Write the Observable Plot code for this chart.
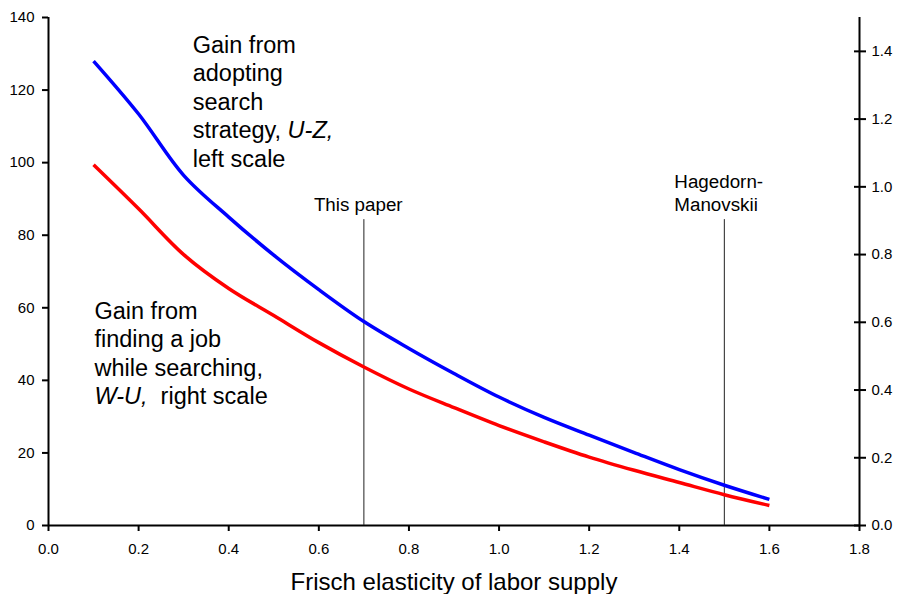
<!DOCTYPE html>
<html>
<head>
<meta charset="utf-8">
<script src="https://cdn.jsdelivr.net/npm/d3@7"></script>
<script src="https://cdn.jsdelivr.net/npm/@observablehq/plot@0.6"></script>
<style>
  body { margin: 0; background: #fff; }
  #chart { width: 897px; height: 594px; }
</style>
</head>
<body>
<div id="chart"></div>
<script>
// ---- data ----
const elasticity   = [0.1, 0.2, 0.3, 0.4, 0.5, 0.6, 0.7, 0.8, 0.9, 1.0, 1.1, 1.2, 1.3, 1.4, 1.5, 1.6];
// Gain from adopting search strategy, U-Z (left scale)
const gainSearchUZ = [128.0, 113.4, 96.5, 85.0, 74.5, 65.0, 56.2, 48.8, 41.9, 35.4, 29.8, 24.9, 20.1, 15.4, 11.1, 7.2];
// Gain from finding a job while searching, W-U (right scale)
const gainJobWU    = [1.065, 0.935, 0.800, 0.700, 0.620, 0.540, 0.468, 0.403, 0.348, 0.295, 0.247, 0.202, 0.163, 0.127, 0.091, 0.059];

const xTicks     = [0, 0.2, 0.4, 0.6, 0.8, 1.0, 1.2, 1.4, 1.6, 1.8];
const leftTicks  = [0, 20, 40, 60, 80, 100, 120, 140];
const rightTicks = [0, 0.2, 0.4, 0.6, 0.8, 1.0, 1.2, 1.4];
const leftMax = 140, rightMax = 1.5, xMax = 1.8;

const markerX      = [0.7, 1.5];
const markerLabels = ["This paper", "Hagedorn-\nManovskii"];
const markerTop    = 84.3;

const xTitle  = "Frisch elasticity of labor supply";
const labelUZ = ["Gain from", "adopting", "search", "strategy, U-Z,", "left scale"];
const labelWU = ["Gain from", "finding a job", "while searching,", "W-U,\u00a0 right scale"];
const italicParts = [["strategy, U-Z,", "U-Z,"], ["W-U,\u00a0 right scale", "W-U,"]];

// ---- chart ----
const toLeft = v => v * leftMax / rightMax;
const font = "'Liberation Sans', Arial, Helvetica, sans-serif";

const plot = Plot.plot({
  width: 897,
  height: 594,
  marginLeft: 48,
  marginRight: 38,
  marginTop: 17,
  marginBottom: 69,
  x: { domain: [0, xMax] },
  y: { domain: [0, leftMax] },
  style: { fontFamily: font, fontSize: "15px", color: "#000", background: "#fff" },
  marks: [
    Plot.axisX(xTicks, { tickSize: 6, tickPadding: 12, strokeWidth: 2, tickFormat: d => d.toFixed(1), label: null }),
    Plot.axisY(leftTicks, { anchor: "left", tickSize: 6, tickPadding: 8, strokeWidth: 2, label: null }),
    Plot.axisY(rightTicks.map(toLeft), {
      anchor: "right", tickSize: 12, dx: -6, tickPadding: 6, strokeWidth: 2,
      tickFormat: d => (d * rightMax / leftMax).toFixed(1), label: null
    }),
    Plot.ruleX([0, xMax], { strokeWidth: 2, stroke: "#000" }),
    Plot.ruleY([0], { strokeWidth: 2, stroke: "#000" }),
    Plot.ruleX(markerX, { x: d => d, y1: () => 0, y2: () => markerTop, stroke: "#222", strokeWidth: 1 }),
    Plot.text(markerLabels, {
      x: markerX, y: () => markerTop, text: d => d, dy: -9, dx: -50,
      textAnchor: "start", lineAnchor: "bottom", fontSize: 18.8, lineHeight: 1.23, fill: "#000"
    }),
    Plot.line(gainSearchUZ, { x: elasticity, y: d => d, stroke: "#0000ff", strokeWidth: 3.5, curve: "catmull-rom", strokeLinecap: "butt" }),
    Plot.line(gainJobWU, { x: elasticity, y: d => toLeft(d), stroke: "#ff0000", strokeWidth: 3.5, curve: "catmull-rom", strokeLinecap: "butt" }),
    Plot.text([labelUZ.join("\n")], {
      x: () => 0.32, y: () => 135.9, text: d => d, textAnchor: "start", lineAnchor: "top",
      fontSize: 23.5, lineHeight: 1.213, fill: "#000"
    }),
    Plot.text([labelWU.join("\n")], {
      x: () => 0.102, y: () => 62.6, text: d => d, textAnchor: "start", lineAnchor: "top",
      fontSize: 23.5, lineHeight: 1.213, fill: "#000"
    }),
    Plot.text([xTitle], { frameAnchor: "bottom", dy: 64, lineAnchor: "bottom", fontSize: 24, fill: "#000" })
  ]
});

// italic segments inside label lines
for (const [line, part] of italicParts) {
  d3.select(plot).selectAll("tspan, text")
    .filter(function () { return this.childElementCount === 0 && this.textContent === line; })
    .each(function () {
      const el = d3.select(this);
      const [before, after] = line.split(part);
      el.text(null);
      if (before) el.append("tspan").text(before);
      el.append("tspan").attr("font-style", "italic").text(part);
      if (after) el.append("tspan").text(after);
    });
}

document.getElementById("chart").appendChild(plot);
</script>
</body>
</html>
